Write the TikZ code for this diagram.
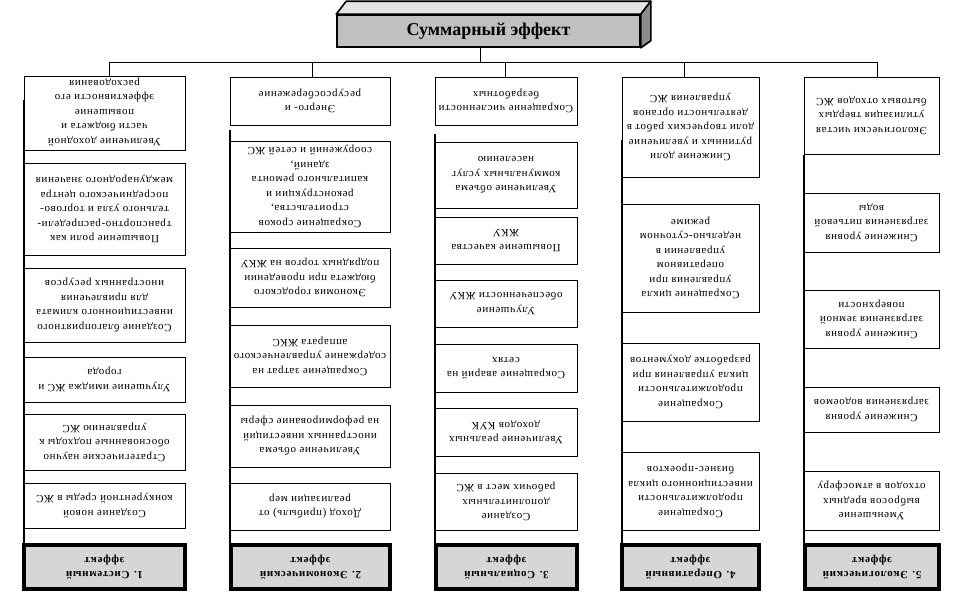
\documentclass[tikz,border=0pt]{standalone}
\usepackage{fontspec}
\setmainfont{Liberation Serif}
\newfontfamily\boxfont[LetterSpace=6]{Liberation Serif}
\newfontfamily\ttlfont{Liberation Serif}
\definecolor{hdrgray}{HTML}{D6D6D6}
\definecolor{frontgray}{HTML}{C0C0C0}
\definecolor{topgray}{HTML}{E4E4E4}
\definecolor{sidegray}{HTML}{8C8C8C}
\tikzset{
  ebox/.style={draw=black, line width=0.9pt, fill=white, inner sep=0pt},
  hbox/.style={draw=black, line width=3.2pt, fill=hdrgray, inner sep=0pt},
  etext/.style={rotate=180, align=center, inner sep=0pt, font=\boxfont\fontsize{11}{14.5}\selectfont},
  htext/.style={rotate=180, align=center, inner sep=0pt, font=\boxfont\bfseries\fontsize{11}{14.5}\selectfont},
  conn/.style={draw=black, line width=0.8pt},
  spine/.style={draw=black, line width=1.8pt}
}
\newcommand\efbox[6]{%
  \node[ebox, minimum width={#4-#2}, minimum height={#5-#3}] (#1) at ({(#2+#4)/2},{(#3+#5)/2}) {};
  \node[etext] (#1t) at (#1.center) {#6};}
\newcommand\efhdr[6]{%
  \node[hbox, minimum width={#4-#2}, minimum height={#5-#3}] (#1) at ({(#2+#4)/2},{(#3+#5)/2}) {};
  \node[htext] (#1t) at (#1.center) {#6};}
\begin{document}
\begin{tikzpicture}[x=1pt,y=-1pt]
\useasboundingbox (0,0) rectangle (953,597);
\fill[white] (0,0) rectangle (953,597);

% ---- title (3D box)
\node[draw=black, line width=1.6pt, fill=frontgray, minimum width=303, minimum height=32, inner sep=0pt] (title) at (488.5,31) {};
\filldraw[fill=topgray, draw=black, line width=1.6pt, line join=round]
  (title.north west) -- ++(10,-13) -- ([shift={(10,-13)}]title.north east) -- (title.north east) -- cycle;
\filldraw[fill=sidegray, draw=black, line width=1.6pt, line join=round]
  (title.north east) -- ++(10,-13) -- ([shift={(10,-7)}]title.south east) -- (title.south east) -- cycle;
\node[font=\ttlfont\bfseries\fontsize{18}{20}\selectfont, inner sep=0pt] (titlet) at (title.center) {Суммарный эффект};

% ---- column 1
\efbox{a1}{24}{76}{185}{150}{}
\node[etext, anchor=north] (a1t) at (104.5,146) {Увеличение доходной\\части бюджета и\\повышение\\эффективности его\\расходования};
\efbox{b1}{24}{163}{185}{255}{Повышение роли как\\транспортно-распредели-\\тельного узла и торгово-\\посреднического центра\\международного значения}
\efbox{c1}{24}{268}{185}{342}{Создание благоприятного\\инвестиционного климата\\для привлечения\\иностранных ресурсов}
\efbox{d1}{24}{357}{185}{402}{Улучшение имиджа ЖС и\\города}
\efbox{e1}{24}{414}{185}{470}{Стратегические научно\\обоснованные подходы к\\управлению ЖС}
\efbox{f1}{24}{483}{185}{528}{Создание новой\\конкурентной среды в ЖС}
\efhdr{h1}{24}{545}{185}{589}{1. Системный\\эффект}

% ---- column 2
\efbox{a2}{230}{77}{390}{125}{Энерго- и\\ресурсосбережение}
\efbox{b2}{230}{141}{390}{232}{Сокращение сроков\\строительства,\\реконструкции и\\капитального ремонта\\зданий,\\сооружений и сетей ЖС}
\efbox{c2}{230}{248}{390}{307}{Экономия городского\\бюджета при проведении\\подрядных торгов на ЖКУ}
\efbox{d2}{230}{325}{390}{387}{Сокращение затрат на\\содержание управленческого\\аппарата ЖКС}
\efbox{e2}{230}{405}{390}{467}{Увеличение объема\\иностранных инвестиций\\на реформирование сферы}
\efbox{f2}{230}{483}{390}{530}{Доход (прибыль) от\\реализации мер}
\efhdr{h2}{231}{545}{390}{589}{2. Экономический\\эффект}

% ---- column 3
\efbox{a3}{435}{77}{577}{125}{Сокращение численности\\безработных}
\efbox{b3}{435}{142}{577}{208}{Увеличение объема\\коммунальных услуг\\населению}
\efbox{c3}{435}{217}{577}{264}{Повышение качества\\ЖКУ}
\efbox{d3}{435}{280}{577}{327}{Улучшение\\обеспеченности ЖКУ}
\efbox{e3}{435}{344}{577}{392}{Сокращение аварий на\\сетях}
\efbox{f3}{435}{408}{577}{456}{Увеличение реальных\\доходов КУК}
\efbox{g3}{435}{473}{577}{530}{Создание\\дополнительных\\рабочих мест в ЖС}
\efhdr{h3}{436}{545}{577}{589}{3. Социальный\\эффект}

% ---- column 4
\efbox{a4}{622}{77}{759}{177}{Снижение доли\\рутинных и увеличение\\доли творческих работ в\\деятельности органов\\управления ЖС}
\efbox{b4}{622}{204}{759}{312}{Сокращение цикла\\управления при\\оперативном\\управлении в\\недельно-суточном\\режиме}
\efbox{c4}{622}{343}{759}{421}{Сокращение\\продолжительности\\цикла управления при\\разработке документов}
\efbox{d4}{622}{452}{759}{530}{Сокращение\\продолжительности\\инвестиционного цикла\\бизнес-проектов}
\efhdr{h4}{622}{545}{759}{589}{4. Оперативный\\эффект}

% ---- column 5
\efbox{a5}{804}{77}{939}{154}{Экологически чистая\\утилизация твердых\\бытовых отходов ЖС}
\efbox{b5}{804}{193}{939}{252}{Снижение уровня\\загрязнения питьевой\\воды}
\efbox{c5}{804}{290}{939}{348}{Снижение уровня\\загрязнения земной\\поверхности}
\efbox{d5}{804}{387}{939}{432}{Снижение уровня\\загрязнения водоемов}
\efbox{e5}{804}{471}{939}{530}{Уменьшение\\выбросов вредных\\отходов в атмосферу}
\efhdr{h5}{805}{545}{939}{589}{5. Экологический\\эффект}

% ---- connectors from the title
\coordinate (bus) at (480,62);
\coordinate (busl) at (109,62);
\coordinate (busr) at (877,62);
\draw[conn] (title.south -| bus) -- (bus);
\draw[conn] (busl) -- (busr);
\draw[conn] (busl) -- (busl |- a1.north);
\draw[conn] (312,62) coordinate (t2) -- (t2 |- a2.north);
\draw[conn] (505,62) coordinate (t3) -- (t3 |- a3.north);
\draw[conn] (684,62) coordinate (t4) -- (t4 |- a4.north);
\draw[conn] (busr) -- (busr |- a5.north);

% ---- spines
\coordinate (s1) at (24,100);
\coordinate (s2) at (230,130);
\coordinate (s3) at (435,134);
\coordinate (s4) at (622,140);
\coordinate (s5) at (804,155);
\draw[spine] (s1) -- (s1 |- h1.north);
\draw[spine] (s2) -- (s2 |- h2.north);
\draw[spine] (s3) -- (s3 |- h3.north);
\draw[spine] (s4) -- (s4 |- h4.north);
\draw[spine] (s5) -- (s5 |- h5.north);
\end{tikzpicture}
\end{document}
